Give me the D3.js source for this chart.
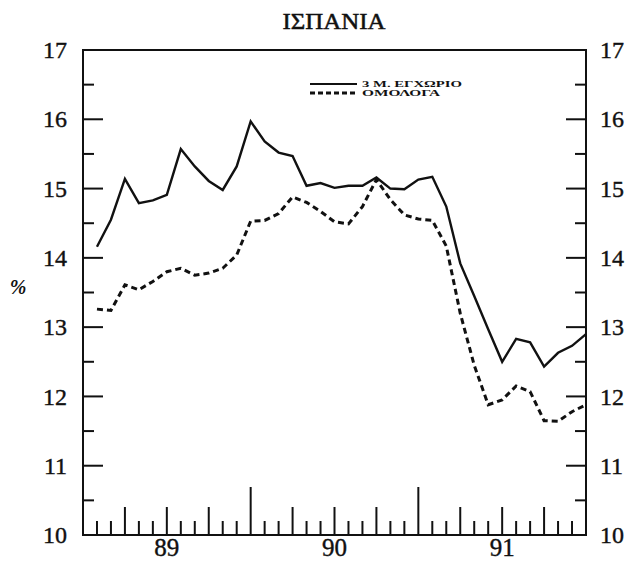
<!DOCTYPE html>
<html><head><meta charset="utf-8">
<script src="https://cdn.jsdelivr.net/npm/d3@7"></script>
<style>body{margin:0;background:#fff}svg{display:block}</style>
</head><body>
<svg id="c" width="627" height="570"></svg>
<script>
const title = "ΙΣΠΑΝΙΑ";
const months = ["1989-01","1989-02","1989-03","1989-04","1989-05","1989-06","1989-07","1989-08","1989-09","1989-10","1989-11","1989-12",
"1990-01","1990-02","1990-03","1990-04","1990-05","1990-06","1990-07","1990-08","1990-09","1990-10","1990-11","1990-12",
"1991-01","1991-02","1991-03","1991-04","1991-05","1991-06","1991-07","1991-08","1991-09","1991-10","1991-11","1991-12"];
const domestic3m = [14.16,14.55,15.14,14.79,14.83,14.91,15.57,15.32,15.11,14.98,15.32,15.97,
15.68,15.52,15.47,15.04,15.08,15.01,15.04,15.04,15.16,15.00,14.99,15.13,
15.17,14.74,13.92,13.45,12.97,12.50,12.83,12.78,12.43,12.63,12.73,12.90];
const bonds = [13.26,13.24,13.61,13.54,13.66,13.80,13.85,13.75,13.78,13.85,14.04,14.53,
14.54,14.64,14.88,14.80,14.67,14.52,14.49,14.74,15.13,14.84,14.62,14.56,
14.54,14.17,13.20,12.45,11.88,11.95,12.15,12.07,11.65,11.64,11.78,11.88];
const seriesNames = ["3 Μ. ΕΓΧΩΡΙΟ","ΟΜΟΛΟΓΑ"];
const yearLabels = ["89","90","91"];
const yTicks = [10,11,12,13,14,15,16,17];
const yUnit = "%";

const svg = d3.select("#c");
const L = 83, R = 586, T = 50, B = 535;
const font = "'Liberation Serif', 'Times New Roman', Times, serif";
// x: month index, position at end of month (0 = start of 1989, 36 = end of 1991)
const x = d3.scaleLinear().domain([0, months.length]).range([L, R]);
const y = d3.scaleLinear().domain([10, 17]).range([B, T]);

const ink = "#111";

// frame
svg.append("rect").attr("x", L).attr("y", T).attr("width", R - L).attr("height", B - T)
  .attr("fill", "none").attr("stroke", ink).attr("stroke-width", 2);

// y ticks (both sides), major at integers, minor at halves
const half = d3.range(10, 17.01, 0.5);
half.forEach(v => {
  const major = Math.abs(v - Math.round(v)) < 1e-6;
  const len = major ? 20 : 11;
  svg.append("line").attr("x1", L).attr("x2", L + len).attr("y1", y(v)).attr("y2", y(v))
    .attr("stroke", ink).attr("stroke-width", 2);
  svg.append("line").attr("x1", R).attr("x2", R - len).attr("y1", y(v)).attr("y2", y(v))
    .attr("stroke", ink).attr("stroke-width", 2);
});
// y labels
const fmt = d3.format("d");
const leftAxis = d3.axisLeft(y).tickValues(yTicks).tickFormat(fmt).tickSize(0).tickPadding(16);
const gl = svg.append("g").attr("transform", `translate(${L},0)`).call(leftAxis);
const rightAxis = d3.axisRight(y).tickValues(yTicks).tickFormat(fmt).tickSize(0).tickPadding(14);
const gr = svg.append("g").attr("transform", `translate(${R},0)`).call(rightAxis);
[gl, gr].forEach(g => {
  g.select(".domain").remove();
  g.selectAll("text").attr("font-family", font).attr("font-size", 24).attr("fill", ink)
    .attr("stroke", ink).attr("stroke-width", 0.4);
});

// x ticks: monthly, quarterly medium, yearly tall
d3.range(1, months.length).forEach(i => {
  const len = i % 12 === 0 ? 48 : (i % 3 === 0 ? 28 : 14);
  svg.append("line").attr("x1", x(i)).attr("x2", x(i)).attr("y1", B).attr("y2", B - len)
    .attr("stroke", ink).attr("stroke-width", 2);
});
// year labels at mid-year
yearLabels.forEach((lab, k) => {
  svg.append("text").attr("x", x(k * 12 + 6)).attr("y", B + 21)
    .attr("text-anchor", "middle").attr("font-family", font).attr("font-size", 25)
    .attr("fill", ink).attr("stroke", ink).attr("stroke-width", 0.4).text(lab);
});

// title
svg.append("text").attr("x", 334).attr("y", 29).attr("text-anchor", "middle")
  .attr("font-family", font).attr("font-size", 23).attr("fill", ink)
  .attr("stroke", ink).attr("stroke-width", 0.5)
  .attr("textLength", 103).attr("lengthAdjust", "spacingAndGlyphs").text(title);
// unit
svg.append("text").attr("x", 18).attr("y", 294).attr("text-anchor", "middle")
  .attr("font-family", font).attr("font-size", 20).attr("font-style", "italic").attr("font-weight", "bold")
  .attr("fill", ink).text(yUnit);

// lines
const line = d3.line().x((d, i) => x(i + 1)).y(d => y(d));
svg.append("path").attr("d", line(bonds)).attr("fill", "none").attr("stroke", ink)
  .attr("stroke-width", 3).attr("stroke-dasharray", "6,4");
svg.append("path").attr("d", line(domestic3m)).attr("fill", "none").attr("stroke", ink)
  .attr("stroke-width", 2.4).attr("stroke-linejoin", "miter");

// legend
const lg = [{name: seriesNames[0], dash: null, w: 2, yy: 84, len: 100},
            {name: seriesNames[1], dash: "5,3", w: 3, yy: 93, len: 78}];
lg.forEach(d => {
  svg.append("line").attr("x1", 310).attr("x2", 357).attr("y1", d.yy).attr("y2", d.yy)
    .attr("stroke", ink).attr("stroke-width", d.w).attr("stroke-dasharray", d.dash);
  svg.append("text").attr("x", 362).attr("y", d.yy + 3).attr("font-family", font)
    .attr("font-size", 8.5).attr("font-weight", "bold").attr("fill", ink)
    .attr("textLength", d.len).attr("lengthAdjust", "spacingAndGlyphs").text(d.name);
});
</script>
</body></html>
